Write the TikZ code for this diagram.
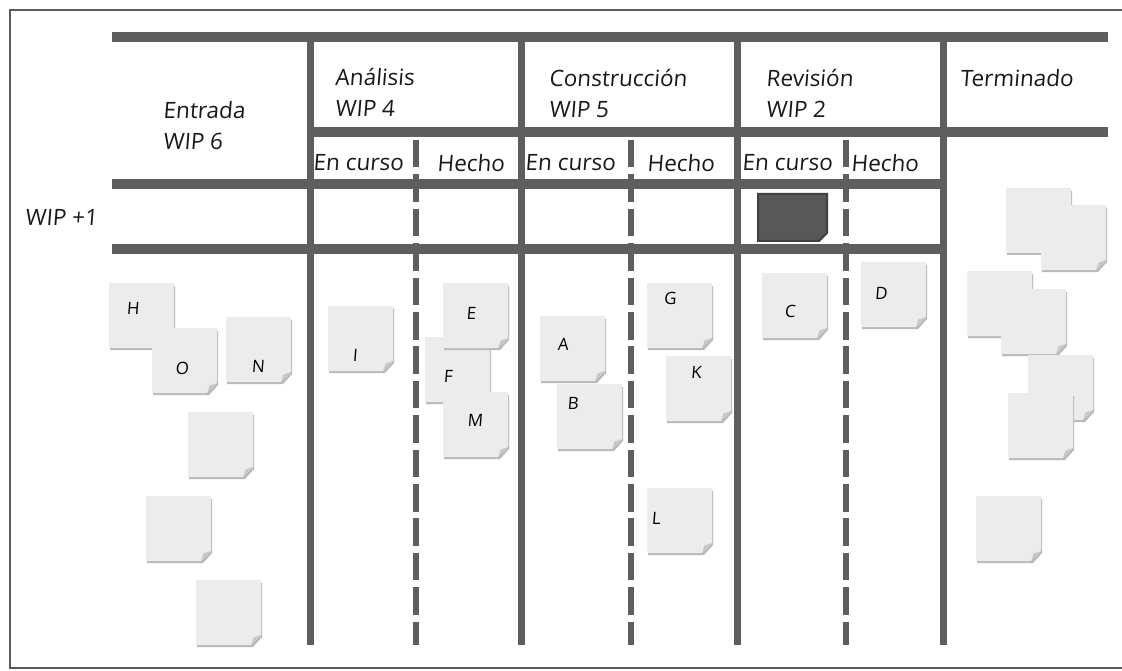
\documentclass[tikz,border=0pt]{standalone}
\usepackage{fontspec}
\newfontfamily\hand{Open Sans}[FakeSlant=0.08]
\definecolor{barc}{RGB}{94,94,94}
\definecolor{framec}{RGB}{90,90,90}
\definecolor{notef}{RGB}{236,236,236}
\definecolor{notes}{RGB}{185,185,185}
\definecolor{notefold}{RGB}{200,200,200}
\definecolor{darknote}{RGB}{88,88,88}

% a sticky note: name, left edge, top edge
\newcommand\postit[3]{%
  \begin{scope}[shift={(#2,#3)}]
    \fill[notes] (1,3) -- (66,3) -- (66,57) -- (57,67) -- (1,67) -- cycle;
    \fill[notef] (0,0) -- (65,0) -- (65,55) -- (55,65) -- (0,65) -- cycle;
    \fill[notefold] (65,55) -- (55,65) -- (57.5,57.5) -- cycle;
    \node[notebox] (#1) at (32.5,32.5) {};
  \end{scope}}

\begin{document}
\begin{tikzpicture}[x=1pt,y=-1pt,
  bar/.style={barc, line width=10pt},
  col/.style={barc, line width=7pt},
  sub/.style={barc, line width=6.5pt, dash pattern=on 27.5pt off 6.9pt},
  head/.style={font=\hand\fontsize{22.5}{31}\selectfont, align=left,
    anchor=west, inner sep=0pt, text=black!90},
  letter/.style={font=\hand\fontsize{17}{17}\selectfont, inner sep=0pt, text=black},
  notebox/.style={minimum size=65pt, inner sep=0pt}]
\useasboundingbox (0,0) rectangle (1122,671);
\fill[white] (0,0) rectangle (1122,671);

% board frame
\draw[framec, line width=2.5pt] (10,10) rectangle (1130,668);

% sub-column dividers (dashed)
\draw[sub] (416,140) -- (416,645);
\draw[sub] (631,140) -- (631,645);
\draw[sub] (846,140) -- (846,645);

% horizontal rails
\draw[bar] (112,37) -- (1108,37);
\draw[bar] (310,132) -- (1108,132);
\draw[bar] (112,184) -- (940,184);
\draw[bar] (112,249) -- (940,249);

% column dividers
\draw[col] (310,37) -- (310,645);
\draw[col] (521,37) -- (521,645);
\draw[col] (737,37) -- (737,645);
\draw[col] (943,37) -- (943,645);

% column headings
\node[head] (entrada) at (163,126) {Entrada\\WIP 6};
\node[head] (analisis) at (335,92) {Análisis\\WIP 4};
\node[head] (construccion) at (549,93) {Construcción\\WIP 5};
\node[head] (revision) at (766,93) {Revisión\\WIP 2};
\node[head] (terminado) at (960,78) {Terminado};
\node[head] (wip) at (25,217) {WIP +1};

% sub-column headings
\node[head] (an-curso) at (313,163) {En curso};
\node[head] (an-hecho) at (437,163) {Hecho};
\node[head] (co-curso) at (525,163) {En curso};
\node[head] (co-hecho) at (647,163) {Hecho};
\node[head] (re-curso) at (742,163) {En curso};
\node[head] (re-hecho) at (851,163) {Hecho};

% expedite card
\fill[darknote, draw=black!75, line width=2pt]
  (758,194) -- (827,194) -- (827,233) -- (819,241) -- (758,241) -- cycle;
\node[inner sep=0pt, minimum width=69pt, minimum height=47pt] (expedite) at (792.5,217.5) {};

% Entrada
\postit{nH}{109}{283}
\postit{nO}{152}{328}
\postit{nN}{226}{317}
\postit{e1}{188}{412}
\postit{e2}{146}{496}
\postit{e3}{196}{580}
\node[letter] (lH) at (133,308) {H};
\node[letter] (lO) at (182,368) {O};
\node[letter] (lN) at (258,366) {N};

% Análisis
\postit{nI}{328}{306}
\postit{nF}{425}{337}
\postit{nE}{443}{283}
\postit{nM}{443}{392}
\node[letter] (lI) at (355,355) {I};
\node[letter] (lF) at (448,376) {F};
\node[letter] (lE) at (471,313) {E};
\node[letter] (lM) at (475,420) {M};

% Construcción
\postit{nA}{540}{316}
\postit{nB}{557}{384}
\postit{nG}{647}{283}
\postit{nK}{666}{356}
\postit{nL}{647}{488}
\node[letter] (lA) at (563,344) {A};
\node[letter] (lB) at (573,403) {B};
\node[letter] (lG) at (670,298) {G};
\node[letter] (lK) at (696,372) {K};
\node[letter] (lL) at (656,518) {L};

% Revisión
\postit{nC}{762}{273}
\postit{nD}{861}{262}
\node[letter] (lC) at (790,311) {C};
\node[letter] (lD) at (881,293) {D};

% Terminado
\postit{t1}{1006}{188}
\postit{t2}{1041}{205}
\postit{t3}{967}{271}
\postit{t4}{1001}{289}
\postit{t5}{1028}{355}
\postit{t6}{1008}{393}
\postit{t7}{976}{496}
\end{tikzpicture}
\end{document}
